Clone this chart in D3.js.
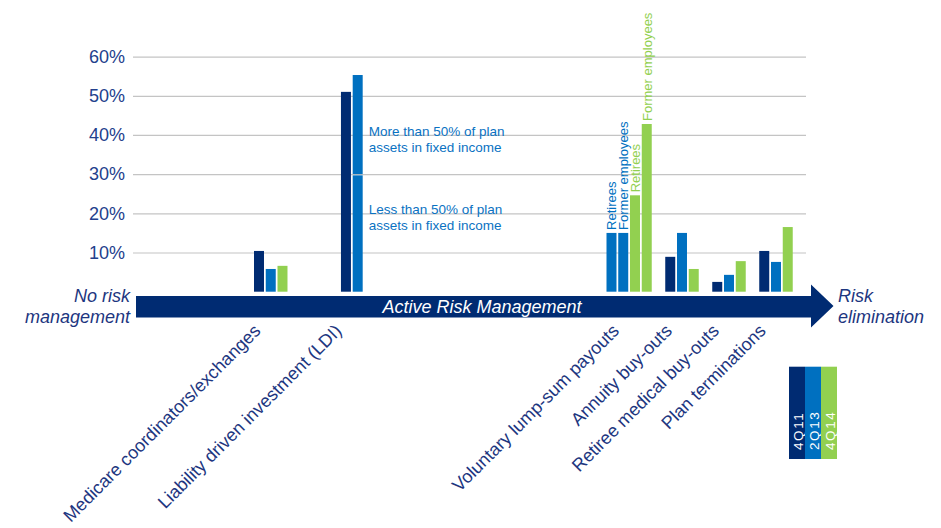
<!DOCTYPE html>
<html><head><meta charset="utf-8">
<script src="https://cdn.jsdelivr.net/npm/d3@7"></script>
<style>
body{margin:0;background:#fff;}
text{font-family:"Liberation Sans",Arial,Helvetica,sans-serif;}
</style></head>
<body><svg id="chart" width="941" height="528"></svg>
<script>
// ---------- DATA ----------
const categories = ["Medicare coordinators/exchanges","Liability driven investment (LDI)","Voluntary lump-sum payouts","Annuity buy-outs","Retiree medical buy-outs","Plan terminations"];
const seriesNames = ["4Q11","2Q13","4Q14"];
const values4Q11 = [10.4, 51.0, null, 8.9, 2.5, 10.4];
const values2Q13 = [5.8, 55.3, null, 15.0, 4.3, 7.6];
const values4Q14 = [6.6, null, null, 5.8, 7.8, 16.5];
const lumpSumGroups = ["Retirees","Former employees"];
const lumpSum2Q13 = [15.0, 15.0];
const lumpSum4Q14 = [24.6, 42.8];
const ldiSplitLabels = ["Less than 50% of plan assets in fixed income","More than 50% of plan assets in fixed income"];
const ldi2Q13Split = [30.0, 25.3];
const yTickValues = [10, 20, 30, 40, 50, 60];
const leftEndLabel = ["No risk","management"];
const rightEndLabel = ["Risk","elimination"];
const arrowLabel = "Active Risk Management";

// ---------- LAYOUT ----------
const colors = ["#002b72","#0070c0","#92d050"];
const navy = "#1d3680";
const gapBefore = [0, 4.4, 20.6, 1, 1, 1];
const lumpIdx = 2, ldiIdx = 1;
const svg = d3.select("#chart");

const y = d3.scaleLinear().domain([0, 60]).range([291.7, 56.6]);
const x = d3.scaleLinear().domain([0, 46]).range([254, 254 + 46 * 11.75]);
const barW = x(0.85) - x(0);

// build bars
const seriesValues = [values4Q11, values2Q13, values4Q14];
const lumpValues = [[], lumpSum2Q13, lumpSum4Q14];
let cursor = 0;
const bars = [];
const groups = [];
categories.forEach((c, i) => {
  cursor += gapBefore[i];
  const first = cursor;
  seriesNames.forEach((s, si) => {
    if (i === lumpIdx) {
      lumpValues[si].forEach((v, gi) => { bars.push({cat:i, s:si, v, slot:cursor, label:lumpSumGroups[gi]}); cursor += 1; });
    } else {
      const v = seriesValues[si][i];
      if (v != null) { bars.push({cat:i, s:si, v, slot:cursor}); cursor += 1; }
    }
  });
  groups.push({cat:c, center:(x(first) + x(cursor - 1) + barW) / 2});
});

// gridlines + y axis
const yAxis = d3.axisLeft(y).tickValues(yTickValues).tickFormat(d => d + "%")
  .tickSizeInner(-(806 - 133)).tickSizeOuter(0).tickPadding(8);
const ga = svg.append("g").attr("transform", "translate(133,0)").call(yAxis);
ga.select(".domain").remove();
ga.selectAll(".tick line").attr("stroke", "#c4c4c4").attr("stroke-width", 1.2);
ga.selectAll(".tick text").attr("fill", "#23408c").attr("font-size", 18);

// bars
const gb = svg.append("g");
bars.forEach(b => {
  if (b.cat === ldiIdx && b.s === 1) {
    let base = 0;
    ldi2Q13Split.forEach((seg, k) => {
      const top = base + seg;
      const gap = k === 0 ? 1.2 : 0;
      gb.append("rect").attr("x", x(b.slot)).attr("width", barW)
        .attr("y", y(top) + gap).attr("height", y(base) - y(top) - gap)
        .attr("fill", colors[1]);
      base = top;
    });
  } else {
    gb.append("rect").attr("x", x(b.slot)).attr("width", barW)
      .attr("y", y(b.v)).attr("height", y(0) - y(b.v)).attr("fill", colors[b.s]);
  }
  if (b.label) {
    gb.append("text").attr("transform", `translate(${x(b.slot) + barW},${y(b.v) - 3}) rotate(-90)`)
      .attr("font-size", 13).attr("fill", colors[b.s]).text(b.label);
  }
});

// LDI annotations
const ldiBar = bars.find(b => b.cat === ldiIdx && b.s === 1);
const annotY = [20, 40];
ldiSplitLabels.forEach((lab, k) => {
  const cut = lab.indexOf("plan ") + 4;
  const lines = [lab.slice(0, cut), lab.slice(cut + 1)];
  const t = svg.append("text").attr("font-size", 13.5).attr("fill", "#0a72c2");
  lines.forEach((ln, li) => t.append("tspan").attr("x", x(ldiBar.slot) + barW + 6)
    .attr("y", y(annotY[k]) + 1 + li * 15.8).text(ln));
});

// arrow
const ar = {x0:136, x1:811, tip:833.5, top:296, bot:317.5, htop:284.5, hbot:327.5};
svg.append("path").attr("fill", "#002b72")
  .attr("d", `M${ar.x0},${ar.top}H${ar.x1}V${ar.htop}L${ar.tip},${(ar.htop+ar.hbot)/2}L${ar.x1},${ar.hbot}V${ar.bot}H${ar.x0}Z`);
svg.append("text").attr("x", 482).attr("y", 313.3).attr("text-anchor", "middle")
  .attr("font-size", 18).attr("font-style", "italic").attr("fill", "#fff").text(arrowLabel);
leftEndLabel.forEach((t, i) => svg.append("text").attr("x", 130).attr("y", 301.7 + i * 21.6)
  .attr("text-anchor", "end").attr("font-size", 18).attr("font-style", "italic").attr("fill", navy).text(t));
rightEndLabel.forEach((t, i) => svg.append("text").attr("x", 838).attr("y", 301.7 + i * 21.6)
  .attr("font-size", 18).attr("font-style", "italic").attr("fill", navy).text(t));

// category labels
groups.forEach(g => {
  svg.append("text").attr("transform", `translate(${g.center - 9},332) rotate(-45)`)
    .attr("text-anchor", "end").attr("font-size", 18).attr("fill", navy).text(g.cat);
});

// legend
seriesNames.forEach((s, i) => {
  const lx = 789 + i * 16;
  svg.append("rect").attr("x", lx).attr("y", 366.7).attr("width", 16).attr("height", 92.3).attr("fill", colors[i]);
  svg.append("text").attr("transform", `translate(${lx + 14},450) rotate(-90)`)
    .attr("font-size", 13.5).attr("letter-spacing", "1.6px").attr("fill", "#fff").text(s);
});
</script></body></html>
